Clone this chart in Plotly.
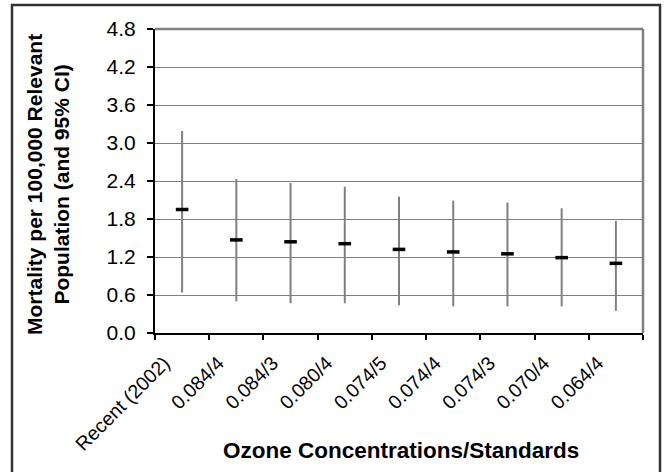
import plotly.graph_objects as go

categories = ["Recent (2002)", "0.084/4", "0.084/3", "0.080/4", "0.074/5",
              "0.074/4", "0.074/3", "0.070/4", "0.064/4"]
mean_vals = [1.95, 1.47, 1.44, 1.41, 1.32, 1.28, 1.25, 1.19, 1.10]
upper_ci = [3.19, 2.43, 2.37, 2.31, 2.15, 2.09, 2.06, 1.97, 1.77]
lower_ci = [0.64, 0.50, 0.47, 0.47, 0.44, 0.42, 0.42, 0.42, 0.35]

err_plus = [u - m for u, m in zip(upper_ci, mean_vals)]
err_minus = [m - l for m, l in zip(mean_vals, lower_ci)]

FONT = "Liberation Sans, Arial, sans-serif"

fig = go.Figure()
fig.add_trace(go.Scatter(
    x=categories, y=mean_vals, mode="markers",
    marker=dict(symbol="line-ew", size=9, color="black",
                line=dict(color="black", width=3.5)),
    error_y=dict(type="data", symmetric=False, array=err_plus,
                 arrayminus=err_minus, width=0, color="#808080", thickness=2),
    showlegend=False, hoverinfo="skip",
))

fig.update_layout(
    width=665, height=472,
    margin=dict(l=155, r=22, t=29, b=139),
    paper_bgcolor="white", plot_bgcolor="white",
    font=dict(family=FONT, color="black", size=16),
    xaxis=dict(
        type="category", tickson="boundaries", ticks="outside", ticklen=5,
        tickcolor="black", tickwidth=2, tickangle=-45, showgrid=False,
        showline=True, linecolor="black", linewidth=2,
        tickfont=dict(size=19.5, family=FONT, color="black"),
        ticklabelshift=-18, ticklabelstandoff=9,
        range=[-0.5, len(categories) - 0.5],
    ),
    yaxis=dict(
        range=[0, 4.8], tickmode="linear", tick0=0, dtick=0.6, tickformat=".1f",
        ticks="outside", ticklen=6, tickcolor="black", tickwidth=2,
        showgrid=True, gridcolor="rgb(128,128,128)", gridwidth=1.2,
        showline=True, linecolor="black", linewidth=2, zeroline=False,
        tickfont=dict(size=21, family=FONT, color="black"),
        ticklabelstandoff=7,
    ),
    shapes=[
        dict(type="line", xref="paper", yref="paper", x0=1, x1=1, y0=0, y1=1,
             line=dict(color="#808080", width=2.5)),
        dict(type="line", xref="paper", yref="paper", x0=0, x1=1, y0=1, y1=1,
             line=dict(color="#808080", width=2.5)),
        dict(type="rect", xref="paper", yref="paper", layer="below",
             fillcolor="rgba(0,0,0,0)",
             x0=(12 - 155) / 488, x1=(660 - 155) / 488,
             y0=(333 - 480) / 304, y1=(333 - 5) / 304,
             line=dict(color="#333333", width=2.5)),
    ],
    annotations=[
        dict(text="<b>Ozone Concentrations/Standards</b>", xref="paper", yref="paper",
             x=(401 - 155) / 488, y=(333 - 450) / 304, xanchor="center", yanchor="middle",
             showarrow=False, font=dict(size=22.5, family=FONT, color="black")),
        dict(text="<b>Mortality per 100,000 Relevant<br>Population (and 95% CI)</b>",
             xref="paper", yref="paper", x=(48 - 155) / 488, y=(333 - 185) / 304,
             xanchor="center", yanchor="middle", textangle=-90,
             showarrow=False, font=dict(size=21, family=FONT, color="black")),
    ],
)

fig.write_html("out.html", config={"displayModeBar": False},
               post_script="document.body.style.margin='0';document.body.style.padding='0';")
